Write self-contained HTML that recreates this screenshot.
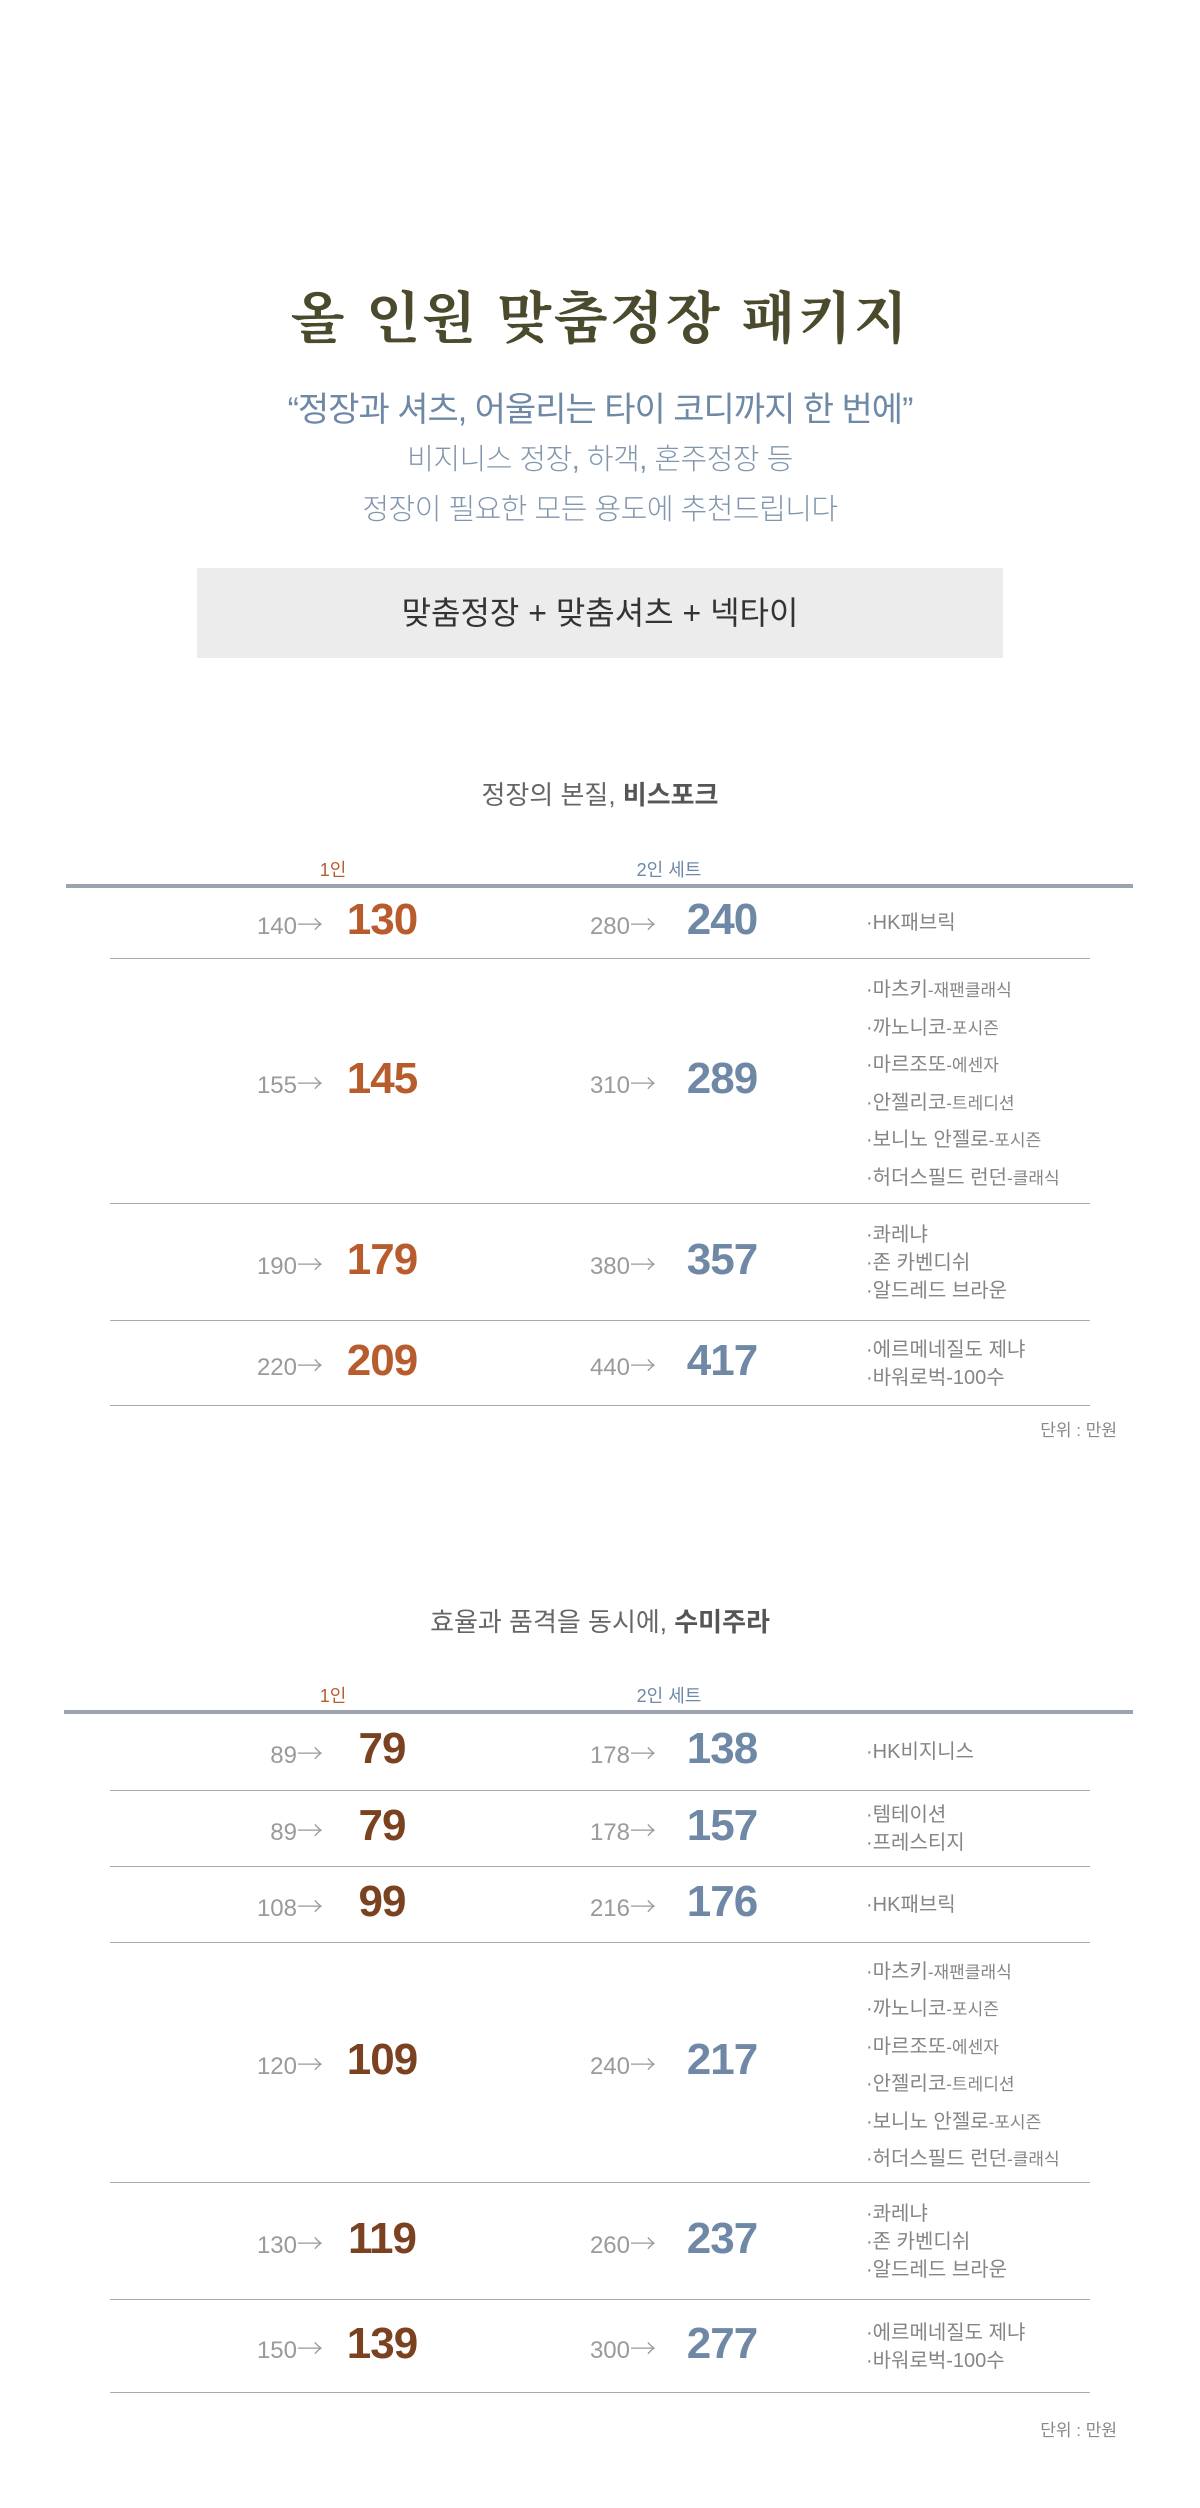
<!DOCTYPE html>
<html lang="ko"><head><meta charset="utf-8">
<style>
html,body{margin:0;padding:0;background:#fff}
#page{position:relative;width:1200px;height:2508px;overflow:hidden;font-family:"Liberation Sans","Noto Sans CJK KR",sans-serif}
.c{position:absolute;left:0;width:1200px;text-align:center;white-space:nowrap}
.abs{position:absolute;white-space:nowrap}
.hl{position:absolute;height:1px;background:#a8abb0}
.thick{position:absolute;height:4px;background:#9aa3ae}
.old{position:absolute;font-size:24px;color:#9a9a9a;text-align:right;line-height:30px}
.old span{font-family:"Noto Sans CJK KR",sans-serif;font-weight:300;font-size:26px}
.nw{position:absolute;font-size:44px;font-weight:bold;text-align:center;width:160px;line-height:50px;letter-spacing:-1px}
.br{position:absolute;left:866px;font-size:20px;color:#858585;white-space:nowrap}
.br small{font-size:17px}
</style></head><body>
<div id="page">
<div class="c" style="top:280px;font-family:'Noto Serif CJK SC',serif;font-weight:bold;font-size:56px;color:#4b4a2c;letter-spacing:2px;line-height:70px">올 인원 맞춤정장 패키지</div>
<div class="c" style="top:389px;font-size:34px;color:#6e88a6;line-height:42px;letter-spacing:-1px">“정장과 셔츠, 어울리는 타이 코디까지 한 번에”</div>
<div class="c" style="top:443px;font-size:29px;color:#8196ae;line-height:34px;font-weight:300;letter-spacing:-0.5px">비지니스 정장, 하객, 혼주정장 등</div>
<div class="c" style="top:493px;font-size:29px;color:#8196ae;line-height:34px;font-weight:300;letter-spacing:-0.5px">정장이 필요한 모든 용도에 추천드립니다</div>
<div class="abs" style="left:197px;top:568px;width:806px;height:90px;background:#ececec;text-align:center;line-height:90px;font-size:32px;color:#333">맞춤정장 + 맞춤셔츠 + 넥타이</div>
<div id="s1"></div><div id="s2"></div>
</div>
<script>
const s1Old1=[140,155,190,220], s1New1=[130,145,179,209], s1Old2=[280,310,380,440], s1New2=[240,289,357,417];
const s1Bottoms=[958,1203,1320,1405];
const s2Old1=[89,89,108,120,130,150], s2New1=[79,79,99,109,119,139], s2Old2=[178,178,216,240,260,300], s2New2=[138,157,176,217,237,277];
const s2Bottoms=[1790,1866,1942,2182,2299,2392];
const six=['마츠키|-재팬클래식','까노니코|-포시즌','마르조또|-에센자','안젤리코|-트레디션','보니노 안젤로|-포시즌','허더스필드 런던|-클래식'];
const s1Brands=[['HK패브릭'],six,['콰레냐','존 카벤디쉬','알드레드 브라운'],['에르메네질도 제냐','바워로벅-100수']];
const s2Brands=[['HK비지니스'],['템테이션','프레스티지'],['HK패브릭'],six,['콰레냐','존 카벤디쉬','알드레드 브라운'],['에르메네질도 제냐','바워로벅-100수']];
const page=document.getElementById('page');
function add(cls,style,html){const d=document.createElement('div');d.className=cls;d.style.cssText=style;d.innerHTML=html;page.appendChild(d);return d;}
function section(title,bold,headY,thickY,thickX,old1,new1,old2,new2,bottoms,brands,c1,unitY){
 let h=add('c','top:'+headY+'px;font-size:26px;color:#666;line-height:34px',title+'<b style="color:#555">'+bold+'</b>');
 
 
 let a=add('abs','left:313px;top:'+(thickY-30)+'px;font-size:18px;color:#b85c2e;width:40px;text-align:center','1인');
 
 
 let b=add('abs','left:629px;top:'+(thickY-30)+'px;font-size:18px;color:#6e88a6;width:80px;text-align:center','2인 세트');
 
 
 let t=add('thick','left:'+thickX+'px;top:'+(thickY-2)+'px;width:'+(1133-thickX)+'px','');
 
 
 let top=thickY;
 for(let i=0;i<bottoms.length;i++){
  const cy=(top+bottoms[i])/2;
  let o=add('old','left:180px;width:143px;top:'+(cy-13)+'px',old1[i]+'<span>→</span>');
  
  
  let n=add('nw','left:302px;top:'+(cy-27)+'px;color:'+c1,new1[i]);
  
  
  let o2=add('old','left:510px;width:146px;top:'+(cy-13)+'px',old2[i]+'<span>→</span>');
  
  
  let n2=add('nw','left:642px;top:'+(cy-27)+'px;color:#6e88a6',new2[i]);
  
  
  const list=brands[i], lh=list.length>3?36.5:28;
  const html=list.map(s=>{const p=s.split('|');return '·'+p[0]+(p[1]?'<small>'+p[1]+'</small>':'');}).join('<br>');
  let br=add('br','top:'+(cy-list.length*lh/2+1)+'px;line-height:'+lh+'px',html);
  
  
  let l=add('hl','left:110px;width:980px;top:'+bottoms[i]+'px','');
  
  
  top=bottoms[i];
 }
 let u=add('abs','left:1017px;width:100px;text-align:right;top:'+(unitY-11)+'px;font-size:17px;color:#888','단위 : 만원');
 
 
}
section('정장의 본질, ','비스포크',778,886,66,s1Old1,s1New1,s1Old2,s1New2,s1Bottoms,s1Brands,'#b85c2e',1427);
section('효율과 품격을 동시에, ','수미주라',1605,1712,64,s2Old1,s2New1,s2Old2,s2New2,s2Bottoms,s2Brands,'#7a4220',2427);
</script>
</body></html>
